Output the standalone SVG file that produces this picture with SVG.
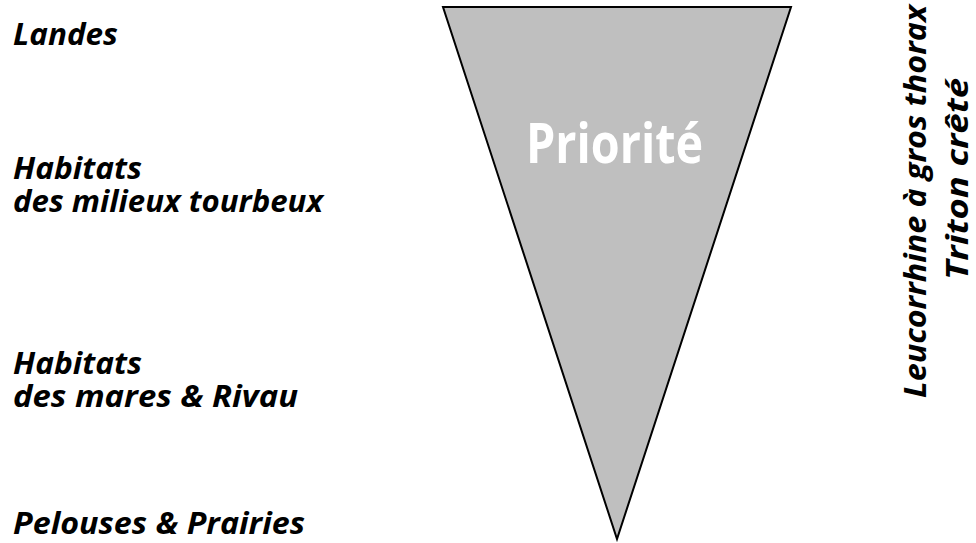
<svg xmlns="http://www.w3.org/2000/svg" width="976" height="543" viewBox="0 0 976 543">
<style>
.lbl{font-family:"Open Sans","Liberation Sans",sans-serif;font-weight:bold;font-style:italic;font-size:31px;fill:#000}
.prio{font-family:"Open Sans","Liberation Sans",sans-serif;font-weight:bold;font-size:56px;fill:#fff}
</style>
<rect width="976" height="543" fill="#fff"/>
<g id="triangle">
<polygon points="443,7 791,7 617,539" fill="#bfbfbf" stroke="#000" stroke-width="2" stroke-linejoin="miter"/>
<text class="prio" x="526" y="163" textLength="177" lengthAdjust="spacingAndGlyphs">Priorité</text>
</g>
<g id="landes"><text class="lbl" x="13" y="45" textLength="105" lengthAdjust="spacingAndGlyphs">Landes</text></g>
<g id="tourbeux">
<text class="lbl" x="13" y="179" textLength="129" lengthAdjust="spacingAndGlyphs">Habitats</text>
<text class="lbl" x="13" y="212" textLength="310" lengthAdjust="spacingAndGlyphs">des milieux tourbeux</text>
</g>
<g id="mares">
<text class="lbl" x="13" y="374" textLength="129" lengthAdjust="spacingAndGlyphs">Habitats</text>
<text class="lbl" x="13" y="407" textLength="285" lengthAdjust="spacingAndGlyphs">des mares &amp; Rivau</text>
</g>
<g id="pelouses"><text class="lbl" x="13" y="534" textLength="292" lengthAdjust="spacingAndGlyphs">Pelouses &amp; Prairies</text></g>
<g id="especes">
<text class="lbl" transform="translate(926,398) rotate(-90)" x="0" y="0" textLength="393" lengthAdjust="spacingAndGlyphs">Leucorrhine à gros thorax</text>
<text class="lbl" transform="translate(968,280) rotate(-90)" x="0" y="0" textLength="202" lengthAdjust="spacingAndGlyphs">Triton crêté</text>
</g>
</svg>
